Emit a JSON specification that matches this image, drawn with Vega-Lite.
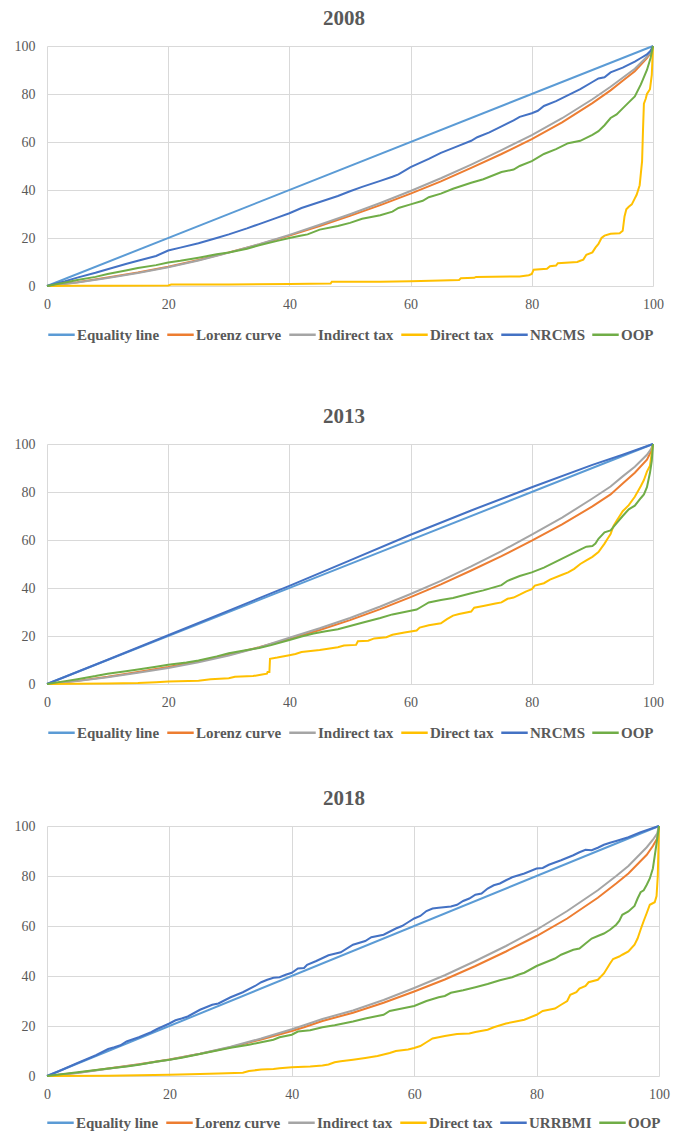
{
"$schema": "https://vega.github.io/schema/vega-lite/v6.json",
"padding": {"left": 14, "top": 8, "right": 5, "bottom": 2},
"config": {
  "font": "Liberation Serif",
  "view": {"stroke": null},
  "style": {"guide-label": {"font": "Liberation Serif"}, "guide-title": {"font": "Liberation Serif"}, "group-title": {"font": "Liberation Serif"}},
  "axis": {"grid": true, "gridColor": "#d9d9d9", "gridWidth": 1, "domain": false, "ticks": false, "labelFont": "Liberation Serif", "labelFontSize": 14, "labelColor": "#595959", "title": null, "labelFlush": false, "labelOverlap": false},
  "axisX": {"labelPadding": 11},
  "axisY": {"labelPadding": 12},
  "legend": {"labelFont": "Liberation Serif", "layout": {"bottom": {"anchor": "middle"}}},
  "title": {"font": "Liberation Serif", "fontSize": 21, "fontWeight": "bold", "color": "#595959", "anchor": "middle", "offset": 10}
},
"data": {"values": [
{"p":"2008","s":"Equality line","x":0,"y":0},{"p":"2008","s":"Equality line","x":100,"y":100},
{"p":"2008","s":"Lorenz curve","x":0,"y":0},{"p":"2008","s":"Lorenz curve","x":5,"y":1.6},{"p":"2008","s":"Lorenz curve","x":10,"y":3.5},{"p":"2008","s":"Lorenz curve","x":15,"y":5.6},{"p":"2008","s":"Lorenz curve","x":20,"y":8},{"p":"2008","s":"Lorenz curve","x":25,"y":10.8},{"p":"2008","s":"Lorenz curve","x":30,"y":14},{"p":"2008","s":"Lorenz curve","x":35,"y":17.3},{"p":"2008","s":"Lorenz curve","x":40,"y":21},{"p":"2008","s":"Lorenz curve","x":45,"y":25},{"p":"2008","s":"Lorenz curve","x":50,"y":29.2},{"p":"2008","s":"Lorenz curve","x":55,"y":33.7},{"p":"2008","s":"Lorenz curve","x":60,"y":38.5},{"p":"2008","s":"Lorenz curve","x":65,"y":43.6},{"p":"2008","s":"Lorenz curve","x":70,"y":49.2},{"p":"2008","s":"Lorenz curve","x":75,"y":55},{"p":"2008","s":"Lorenz curve","x":80,"y":61.2},{"p":"2008","s":"Lorenz curve","x":85,"y":68.2},{"p":"2008","s":"Lorenz curve","x":90,"y":76.2},{"p":"2008","s":"Lorenz curve","x":93,"y":81.5},{"p":"2008","s":"Lorenz curve","x":95,"y":85.5},{"p":"2008","s":"Lorenz curve","x":97,"y":89.5},{"p":"2008","s":"Lorenz curve","x":99,"y":95},{"p":"2008","s":"Lorenz curve","x":99.7,"y":97.5},{"p":"2008","s":"Lorenz curve","x":100,"y":100},
{"p":"2008","s":"Indirect tax","x":0,"y":0},{"p":"2008","s":"Indirect tax","x":5,"y":1.5},{"p":"2008","s":"Indirect tax","x":10,"y":3.3},{"p":"2008","s":"Indirect tax","x":15,"y":5.4},{"p":"2008","s":"Indirect tax","x":20,"y":7.8},{"p":"2008","s":"Indirect tax","x":25,"y":10.6},{"p":"2008","s":"Indirect tax","x":30,"y":13.9},{"p":"2008","s":"Indirect tax","x":35,"y":17.4},{"p":"2008","s":"Indirect tax","x":40,"y":21.3},{"p":"2008","s":"Indirect tax","x":45,"y":25.5},{"p":"2008","s":"Indirect tax","x":50,"y":29.9},{"p":"2008","s":"Indirect tax","x":55,"y":34.6},{"p":"2008","s":"Indirect tax","x":60,"y":39.6},{"p":"2008","s":"Indirect tax","x":65,"y":44.9},{"p":"2008","s":"Indirect tax","x":70,"y":50.6},{"p":"2008","s":"Indirect tax","x":75,"y":56.6},{"p":"2008","s":"Indirect tax","x":80,"y":62.9},{"p":"2008","s":"Indirect tax","x":85,"y":69.9},{"p":"2008","s":"Indirect tax","x":90,"y":77.8},{"p":"2008","s":"Indirect tax","x":93,"y":83},{"p":"2008","s":"Indirect tax","x":95,"y":86.8},{"p":"2008","s":"Indirect tax","x":97,"y":90.5},{"p":"2008","s":"Indirect tax","x":99,"y":95.5},{"p":"2008","s":"Indirect tax","x":99.7,"y":97.8},{"p":"2008","s":"Indirect tax","x":100,"y":100},
{"p":"2008","s":"Direct tax","x":0,"y":0},{"p":"2008","s":"Direct tax","x":5,"y":0.1},{"p":"2008","s":"Direct tax","x":10,"y":0.15},{"p":"2008","s":"Direct tax","x":20,"y":0.2},{"p":"2008","s":"Direct tax","x":20.5,"y":0.6},{"p":"2008","s":"Direct tax","x":30,"y":0.6},{"p":"2008","s":"Direct tax","x":40,"y":0.8},{"p":"2008","s":"Direct tax","x":46.8,"y":1.0},{"p":"2008","s":"Direct tax","x":47,"y":1.8},{"p":"2008","s":"Direct tax","x":55,"y":1.8},{"p":"2008","s":"Direct tax","x":60,"y":2.0},{"p":"2008","s":"Direct tax","x":65,"y":2.3},{"p":"2008","s":"Direct tax","x":68,"y":2.5},{"p":"2008","s":"Direct tax","x":68.3,"y":3.2},{"p":"2008","s":"Direct tax","x":70.5,"y":3.4},{"p":"2008","s":"Direct tax","x":70.8,"y":3.8},{"p":"2008","s":"Direct tax","x":78,"y":4.0},{"p":"2008","s":"Direct tax","x":79.5,"y":4.5},{"p":"2008","s":"Direct tax","x":80,"y":5},{"p":"2008","s":"Direct tax","x":80.3,"y":6.8},{"p":"2008","s":"Direct tax","x":82.5,"y":7.2},{"p":"2008","s":"Direct tax","x":83,"y":8.2},{"p":"2008","s":"Direct tax","x":84,"y":8.5},{"p":"2008","s":"Direct tax","x":84.3,"y":9.5},{"p":"2008","s":"Direct tax","x":87.5,"y":10},{"p":"2008","s":"Direct tax","x":88,"y":10.5},{"p":"2008","s":"Direct tax","x":88.5,"y":11},{"p":"2008","s":"Direct tax","x":89,"y":13},{"p":"2008","s":"Direct tax","x":90,"y":14},{"p":"2008","s":"Direct tax","x":90.5,"y":16},{"p":"2008","s":"Direct tax","x":91,"y":17.5},{"p":"2008","s":"Direct tax","x":91.5,"y":20},{"p":"2008","s":"Direct tax","x":92,"y":21},{"p":"2008","s":"Direct tax","x":93,"y":21.8},{"p":"2008","s":"Direct tax","x":94.5,"y":22},{"p":"2008","s":"Direct tax","x":95,"y":23},{"p":"2008","s":"Direct tax","x":95.3,"y":29},{"p":"2008","s":"Direct tax","x":95.6,"y":32},{"p":"2008","s":"Direct tax","x":96,"y":33},{"p":"2008","s":"Direct tax","x":96.5,"y":34},{"p":"2008","s":"Direct tax","x":97,"y":36.5},{"p":"2008","s":"Direct tax","x":97.3,"y":38},{"p":"2008","s":"Direct tax","x":97.8,"y":42},{"p":"2008","s":"Direct tax","x":98,"y":47},{"p":"2008","s":"Direct tax","x":98.2,"y":52},{"p":"2008","s":"Direct tax","x":98.35,"y":65},{"p":"2008","s":"Direct tax","x":98.5,"y":76},{"p":"2008","s":"Direct tax","x":98.8,"y":78},{"p":"2008","s":"Direct tax","x":99,"y":80},{"p":"2008","s":"Direct tax","x":99.5,"y":82},{"p":"2008","s":"Direct tax","x":99.8,"y":88},{"p":"2008","s":"Direct tax","x":100,"y":100},
{"p":"2008","s":"NRCMS","x":0,"y":0},{"p":"2008","s":"NRCMS","x":3,"y":2},{"p":"2008","s":"NRCMS","x":5,"y":3.5},{"p":"2008","s":"NRCMS","x":8,"y":5.5},{"p":"2008","s":"NRCMS","x":10,"y":7},{"p":"2008","s":"NRCMS","x":13,"y":9.2},{"p":"2008","s":"NRCMS","x":15,"y":10.5},{"p":"2008","s":"NRCMS","x":18,"y":12.5},{"p":"2008","s":"NRCMS","x":20,"y":14.8},{"p":"2008","s":"NRCMS","x":22,"y":16},{"p":"2008","s":"NRCMS","x":25,"y":17.8},{"p":"2008","s":"NRCMS","x":28,"y":20},{"p":"2008","s":"NRCMS","x":30,"y":21.5},{"p":"2008","s":"NRCMS","x":33,"y":24},{"p":"2008","s":"NRCMS","x":35,"y":25.8},{"p":"2008","s":"NRCMS","x":38,"y":28.5},{"p":"2008","s":"NRCMS","x":40,"y":30.3},{"p":"2008","s":"NRCMS","x":42,"y":32.5},{"p":"2008","s":"NRCMS","x":45,"y":35},{"p":"2008","s":"NRCMS","x":48,"y":37.5},{"p":"2008","s":"NRCMS","x":50,"y":39.5},{"p":"2008","s":"NRCMS","x":52,"y":41.3},{"p":"2008","s":"NRCMS","x":55,"y":43.8},{"p":"2008","s":"NRCMS","x":57,"y":45.5},{"p":"2008","s":"NRCMS","x":58,"y":46.5},{"p":"2008","s":"NRCMS","x":60,"y":49.5},{"p":"2008","s":"NRCMS","x":63,"y":53},{"p":"2008","s":"NRCMS","x":65,"y":55.5},{"p":"2008","s":"NRCMS","x":68,"y":58.5},{"p":"2008","s":"NRCMS","x":70,"y":60.5},{"p":"2008","s":"NRCMS","x":71,"y":62},{"p":"2008","s":"NRCMS","x":73,"y":64},{"p":"2008","s":"NRCMS","x":75,"y":66.5},{"p":"2008","s":"NRCMS","x":77,"y":69},{"p":"2008","s":"NRCMS","x":78,"y":70.5},{"p":"2008","s":"NRCMS","x":80,"y":72},{"p":"2008","s":"NRCMS","x":81,"y":73},{"p":"2008","s":"NRCMS","x":82,"y":75},{"p":"2008","s":"NRCMS","x":84,"y":77},{"p":"2008","s":"NRCMS","x":86,"y":79.5},{"p":"2008","s":"NRCMS","x":88,"y":82},{"p":"2008","s":"NRCMS","x":90,"y":85},{"p":"2008","s":"NRCMS","x":91,"y":86.5},{"p":"2008","s":"NRCMS","x":92,"y":87},{"p":"2008","s":"NRCMS","x":93,"y":89},{"p":"2008","s":"NRCMS","x":95,"y":91},{"p":"2008","s":"NRCMS","x":97,"y":93.5},{"p":"2008","s":"NRCMS","x":98,"y":95},{"p":"2008","s":"NRCMS","x":99,"y":96.5},{"p":"2008","s":"NRCMS","x":99.6,"y":98},{"p":"2008","s":"NRCMS","x":100,"y":100},
{"p":"2008","s":"OOP","x":0,"y":0},{"p":"2008","s":"OOP","x":3,"y":1.5},{"p":"2008","s":"OOP","x":5,"y":2.5},{"p":"2008","s":"OOP","x":8,"y":3.8},{"p":"2008","s":"OOP","x":10,"y":5},{"p":"2008","s":"OOP","x":13,"y":6.5},{"p":"2008","s":"OOP","x":15,"y":7.5},{"p":"2008","s":"OOP","x":18,"y":8.7},{"p":"2008","s":"OOP","x":20,"y":9.8},{"p":"2008","s":"OOP","x":22,"y":10.5},{"p":"2008","s":"OOP","x":25,"y":11.8},{"p":"2008","s":"OOP","x":28,"y":13.2},{"p":"2008","s":"OOP","x":30,"y":14},{"p":"2008","s":"OOP","x":33,"y":15.5},{"p":"2008","s":"OOP","x":35,"y":17},{"p":"2008","s":"OOP","x":38,"y":18.8},{"p":"2008","s":"OOP","x":40,"y":20},{"p":"2008","s":"OOP","x":42,"y":21},{"p":"2008","s":"OOP","x":43,"y":21.5},{"p":"2008","s":"OOP","x":45,"y":23.5},{"p":"2008","s":"OOP","x":48,"y":25},{"p":"2008","s":"OOP","x":50,"y":26.3},{"p":"2008","s":"OOP","x":52,"y":28},{"p":"2008","s":"OOP","x":55,"y":29.5},{"p":"2008","s":"OOP","x":57,"y":31},{"p":"2008","s":"OOP","x":58,"y":32.5},{"p":"2008","s":"OOP","x":60,"y":34},{"p":"2008","s":"OOP","x":62,"y":35.5},{"p":"2008","s":"OOP","x":63,"y":37},{"p":"2008","s":"OOP","x":65,"y":38.5},{"p":"2008","s":"OOP","x":67,"y":40.5},{"p":"2008","s":"OOP","x":70,"y":43},{"p":"2008","s":"OOP","x":72,"y":44.5},{"p":"2008","s":"OOP","x":75,"y":47.5},{"p":"2008","s":"OOP","x":77,"y":48.5},{"p":"2008","s":"OOP","x":78,"y":50},{"p":"2008","s":"OOP","x":80,"y":52},{"p":"2008","s":"OOP","x":82,"y":55},{"p":"2008","s":"OOP","x":84,"y":57},{"p":"2008","s":"OOP","x":86,"y":59.5},{"p":"2008","s":"OOP","x":88,"y":60.5},{"p":"2008","s":"OOP","x":90,"y":63},{"p":"2008","s":"OOP","x":91,"y":64.5},{"p":"2008","s":"OOP","x":92,"y":67},{"p":"2008","s":"OOP","x":93,"y":70},{"p":"2008","s":"OOP","x":94,"y":71.5},{"p":"2008","s":"OOP","x":95,"y":74},{"p":"2008","s":"OOP","x":96,"y":76.5},{"p":"2008","s":"OOP","x":97,"y":79},{"p":"2008","s":"OOP","x":98,"y":84},{"p":"2008","s":"OOP","x":99,"y":90},{"p":"2008","s":"OOP","x":99.6,"y":95},{"p":"2008","s":"OOP","x":100,"y":100},

{"p":"2013","s":"Equality line","x":0,"y":0},{"p":"2013","s":"Equality line","x":100,"y":100},
{"p":"2013","s":"Lorenz curve","x":0,"y":0},{"p":"2013","s":"Lorenz curve","x":5,"y":1.3},{"p":"2013","s":"Lorenz curve","x":10,"y":3},{"p":"2013","s":"Lorenz curve","x":15,"y":5},{"p":"2013","s":"Lorenz curve","x":20,"y":7.1},{"p":"2013","s":"Lorenz curve","x":25,"y":9.5},{"p":"2013","s":"Lorenz curve","x":30,"y":12.2},{"p":"2013","s":"Lorenz curve","x":35,"y":15.3},{"p":"2013","s":"Lorenz curve","x":40,"y":18.8},{"p":"2013","s":"Lorenz curve","x":45,"y":22.5},{"p":"2013","s":"Lorenz curve","x":50,"y":26.6},{"p":"2013","s":"Lorenz curve","x":55,"y":31.2},{"p":"2013","s":"Lorenz curve","x":60,"y":36.2},{"p":"2013","s":"Lorenz curve","x":65,"y":41.5},{"p":"2013","s":"Lorenz curve","x":70,"y":47.3},{"p":"2013","s":"Lorenz curve","x":75,"y":53.3},{"p":"2013","s":"Lorenz curve","x":80,"y":59.7},{"p":"2013","s":"Lorenz curve","x":85,"y":66.5},{"p":"2013","s":"Lorenz curve","x":90,"y":74},{"p":"2013","s":"Lorenz curve","x":93,"y":79},{"p":"2013","s":"Lorenz curve","x":95,"y":83.5},{"p":"2013","s":"Lorenz curve","x":97,"y":88},{"p":"2013","s":"Lorenz curve","x":99,"y":93.5},{"p":"2013","s":"Lorenz curve","x":99.7,"y":97},{"p":"2013","s":"Lorenz curve","x":100,"y":100},
{"p":"2013","s":"Indirect tax","x":0,"y":0},{"p":"2013","s":"Indirect tax","x":5,"y":1.2},{"p":"2013","s":"Indirect tax","x":10,"y":2.8},{"p":"2013","s":"Indirect tax","x":15,"y":4.7},{"p":"2013","s":"Indirect tax","x":20,"y":6.7},{"p":"2013","s":"Indirect tax","x":25,"y":9.1},{"p":"2013","s":"Indirect tax","x":30,"y":11.9},{"p":"2013","s":"Indirect tax","x":35,"y":15.2},{"p":"2013","s":"Indirect tax","x":40,"y":19.3},{"p":"2013","s":"Indirect tax","x":45,"y":23.2},{"p":"2013","s":"Indirect tax","x":50,"y":27.5},{"p":"2013","s":"Indirect tax","x":55,"y":32.3},{"p":"2013","s":"Indirect tax","x":60,"y":37.5},{"p":"2013","s":"Indirect tax","x":65,"y":43},{"p":"2013","s":"Indirect tax","x":70,"y":49},{"p":"2013","s":"Indirect tax","x":75,"y":55.4},{"p":"2013","s":"Indirect tax","x":80,"y":62.2},{"p":"2013","s":"Indirect tax","x":85,"y":69.3},{"p":"2013","s":"Indirect tax","x":90,"y":77.3},{"p":"2013","s":"Indirect tax","x":93,"y":82.3},{"p":"2013","s":"Indirect tax","x":95,"y":86.5},{"p":"2013","s":"Indirect tax","x":97,"y":90.5},{"p":"2013","s":"Indirect tax","x":99,"y":95.5},{"p":"2013","s":"Indirect tax","x":99.7,"y":98},{"p":"2013","s":"Indirect tax","x":100,"y":100},
{"p":"2013","s":"Direct tax","x":0,"y":0},{"p":"2013","s":"Direct tax","x":5,"y":0.1},{"p":"2013","s":"Direct tax","x":10,"y":0.2},{"p":"2013","s":"Direct tax","x":15,"y":0.4},{"p":"2013","s":"Direct tax","x":18,"y":0.7},{"p":"2013","s":"Direct tax","x":20,"y":1},{"p":"2013","s":"Direct tax","x":25,"y":1.4},{"p":"2013","s":"Direct tax","x":27,"y":2},{"p":"2013","s":"Direct tax","x":30,"y":2.4},{"p":"2013","s":"Direct tax","x":31,"y":3},{"p":"2013","s":"Direct tax","x":34,"y":3.3},{"p":"2013","s":"Direct tax","x":35.5,"y":4},{"p":"2013","s":"Direct tax","x":36.3,"y":4.3},{"p":"2013","s":"Direct tax","x":36.4,"y":5},{"p":"2013","s":"Direct tax","x":36.7,"y":5},{"p":"2013","s":"Direct tax","x":36.8,"y":10.5},{"p":"2013","s":"Direct tax","x":38,"y":11},{"p":"2013","s":"Direct tax","x":40,"y":12},{"p":"2013","s":"Direct tax","x":41,"y":12.5},{"p":"2013","s":"Direct tax","x":42,"y":13.3},{"p":"2013","s":"Direct tax","x":45,"y":14.2},{"p":"2013","s":"Direct tax","x":48,"y":15.3},{"p":"2013","s":"Direct tax","x":49,"y":16},{"p":"2013","s":"Direct tax","x":51,"y":16.3},{"p":"2013","s":"Direct tax","x":51.3,"y":17.8},{"p":"2013","s":"Direct tax","x":53,"y":18},{"p":"2013","s":"Direct tax","x":54,"y":19},{"p":"2013","s":"Direct tax","x":56,"y":19.5},{"p":"2013","s":"Direct tax","x":57,"y":20.5},{"p":"2013","s":"Direct tax","x":59,"y":21.5},{"p":"2013","s":"Direct tax","x":61,"y":22.3},{"p":"2013","s":"Direct tax","x":61.5,"y":23.5},{"p":"2013","s":"Direct tax","x":63,"y":24.5},{"p":"2013","s":"Direct tax","x":65,"y":25.3},{"p":"2013","s":"Direct tax","x":66,"y":27},{"p":"2013","s":"Direct tax","x":67,"y":28.5},{"p":"2013","s":"Direct tax","x":68,"y":29.2},{"p":"2013","s":"Direct tax","x":70,"y":30.2},{"p":"2013","s":"Direct tax","x":70.5,"y":31.8},{"p":"2013","s":"Direct tax","x":72,"y":32.5},{"p":"2013","s":"Direct tax","x":74,"y":33.5},{"p":"2013","s":"Direct tax","x":75,"y":34},{"p":"2013","s":"Direct tax","x":76,"y":35.5},{"p":"2013","s":"Direct tax","x":77,"y":36},{"p":"2013","s":"Direct tax","x":78,"y":37.2},{"p":"2013","s":"Direct tax","x":79,"y":38.5},{"p":"2013","s":"Direct tax","x":80,"y":39.5},{"p":"2013","s":"Direct tax","x":80.5,"y":41},{"p":"2013","s":"Direct tax","x":82,"y":42},{"p":"2013","s":"Direct tax","x":83,"y":43.5},{"p":"2013","s":"Direct tax","x":85,"y":45.5},{"p":"2013","s":"Direct tax","x":86,"y":46.5},{"p":"2013","s":"Direct tax","x":87,"y":48},{"p":"2013","s":"Direct tax","x":88,"y":50},{"p":"2013","s":"Direct tax","x":89,"y":51.5},{"p":"2013","s":"Direct tax","x":90,"y":53},{"p":"2013","s":"Direct tax","x":91,"y":55},{"p":"2013","s":"Direct tax","x":92,"y":58.5},{"p":"2013","s":"Direct tax","x":92.5,"y":60.5},{"p":"2013","s":"Direct tax","x":93,"y":62.5},{"p":"2013","s":"Direct tax","x":93.5,"y":66},{"p":"2013","s":"Direct tax","x":94,"y":68},{"p":"2013","s":"Direct tax","x":94.5,"y":70},{"p":"2013","s":"Direct tax","x":95,"y":72},{"p":"2013","s":"Direct tax","x":96,"y":74.5},{"p":"2013","s":"Direct tax","x":97,"y":78},{"p":"2013","s":"Direct tax","x":98,"y":82.5},{"p":"2013","s":"Direct tax","x":98.5,"y":85},{"p":"2013","s":"Direct tax","x":99,"y":88.5},{"p":"2013","s":"Direct tax","x":99.5,"y":91},{"p":"2013","s":"Direct tax","x":100,"y":100},
{"p":"2013","s":"NRCMS","x":0,"y":0},{"p":"2013","s":"NRCMS","x":10,"y":10.1},{"p":"2013","s":"NRCMS","x":20,"y":20.3},{"p":"2013","s":"NRCMS","x":30,"y":30.6},{"p":"2013","s":"NRCMS","x":40,"y":40.9},{"p":"2013","s":"NRCMS","x":50,"y":51.5},{"p":"2013","s":"NRCMS","x":60,"y":62.2},{"p":"2013","s":"NRCMS","x":70,"y":72.3},{"p":"2013","s":"NRCMS","x":80,"y":82},{"p":"2013","s":"NRCMS","x":90,"y":91.3},{"p":"2013","s":"NRCMS","x":95,"y":95.5},{"p":"2013","s":"NRCMS","x":100,"y":100},
{"p":"2013","s":"OOP","x":0,"y":0},{"p":"2013","s":"OOP","x":3,"y":1.2},{"p":"2013","s":"OOP","x":5,"y":2},{"p":"2013","s":"OOP","x":8,"y":3.3},{"p":"2013","s":"OOP","x":10,"y":4.3},{"p":"2013","s":"OOP","x":13,"y":5.3},{"p":"2013","s":"OOP","x":15,"y":6},{"p":"2013","s":"OOP","x":18,"y":7.2},{"p":"2013","s":"OOP","x":20,"y":8},{"p":"2013","s":"OOP","x":23,"y":9},{"p":"2013","s":"OOP","x":25,"y":9.8},{"p":"2013","s":"OOP","x":28,"y":11.5},{"p":"2013","s":"OOP","x":30,"y":12.8},{"p":"2013","s":"OOP","x":33,"y":14.2},{"p":"2013","s":"OOP","x":35,"y":15},{"p":"2013","s":"OOP","x":37,"y":16.2},{"p":"2013","s":"OOP","x":40,"y":18.3},{"p":"2013","s":"OOP","x":42,"y":19.8},{"p":"2013","s":"OOP","x":44,"y":21},{"p":"2013","s":"OOP","x":46,"y":22},{"p":"2013","s":"OOP","x":48,"y":22.8},{"p":"2013","s":"OOP","x":50,"y":24.2},{"p":"2013","s":"OOP","x":52,"y":25.5},{"p":"2013","s":"OOP","x":55,"y":27.5},{"p":"2013","s":"OOP","x":57,"y":29},{"p":"2013","s":"OOP","x":60,"y":30.5},{"p":"2013","s":"OOP","x":61,"y":31},{"p":"2013","s":"OOP","x":62,"y":32.5},{"p":"2013","s":"OOP","x":63,"y":34},{"p":"2013","s":"OOP","x":65,"y":35},{"p":"2013","s":"OOP","x":67,"y":35.8},{"p":"2013","s":"OOP","x":70,"y":37.8},{"p":"2013","s":"OOP","x":72,"y":39},{"p":"2013","s":"OOP","x":75,"y":41.2},{"p":"2013","s":"OOP","x":76,"y":43},{"p":"2013","s":"OOP","x":78,"y":45},{"p":"2013","s":"OOP","x":80,"y":46.5},{"p":"2013","s":"OOP","x":82,"y":48.5},{"p":"2013","s":"OOP","x":84,"y":51},{"p":"2013","s":"OOP","x":86,"y":53.5},{"p":"2013","s":"OOP","x":88,"y":56},{"p":"2013","s":"OOP","x":89,"y":57.2},{"p":"2013","s":"OOP","x":90,"y":57.5},{"p":"2013","s":"OOP","x":90.5,"y":58.5},{"p":"2013","s":"OOP","x":91,"y":60.5},{"p":"2013","s":"OOP","x":92,"y":63.2},{"p":"2013","s":"OOP","x":93,"y":64},{"p":"2013","s":"OOP","x":94,"y":67},{"p":"2013","s":"OOP","x":95,"y":70},{"p":"2013","s":"OOP","x":96,"y":72.8},{"p":"2013","s":"OOP","x":97,"y":74.3},{"p":"2013","s":"OOP","x":98,"y":77.5},{"p":"2013","s":"OOP","x":98.5,"y":79},{"p":"2013","s":"OOP","x":99,"y":82},{"p":"2013","s":"OOP","x":99.5,"y":88},{"p":"2013","s":"OOP","x":99.8,"y":93},{"p":"2013","s":"OOP","x":100,"y":100},

{"p":"2018","s":"Equality line","x":0,"y":0},{"p":"2018","s":"Equality line","x":100,"y":100},
{"p":"2018","s":"Lorenz curve","x":0,"y":0},{"p":"2018","s":"Lorenz curve","x":5,"y":1.3},{"p":"2018","s":"Lorenz curve","x":10,"y":3},{"p":"2018","s":"Lorenz curve","x":15,"y":4.7},{"p":"2018","s":"Lorenz curve","x":20,"y":6.6},{"p":"2018","s":"Lorenz curve","x":25,"y":8.9},{"p":"2018","s":"Lorenz curve","x":30,"y":11.5},{"p":"2018","s":"Lorenz curve","x":35,"y":14.6},{"p":"2018","s":"Lorenz curve","x":40,"y":18},{"p":"2018","s":"Lorenz curve","x":42,"y":19.5},{"p":"2018","s":"Lorenz curve","x":45,"y":22},{"p":"2018","s":"Lorenz curve","x":50,"y":25.3},{"p":"2018","s":"Lorenz curve","x":55,"y":29.3},{"p":"2018","s":"Lorenz curve","x":60,"y":33.8},{"p":"2018","s":"Lorenz curve","x":65,"y":38.6},{"p":"2018","s":"Lorenz curve","x":70,"y":44},{"p":"2018","s":"Lorenz curve","x":75,"y":49.8},{"p":"2018","s":"Lorenz curve","x":80,"y":56},{"p":"2018","s":"Lorenz curve","x":85,"y":63},{"p":"2018","s":"Lorenz curve","x":90,"y":71.3},{"p":"2018","s":"Lorenz curve","x":93,"y":77},{"p":"2018","s":"Lorenz curve","x":95,"y":81},{"p":"2018","s":"Lorenz curve","x":97,"y":86},{"p":"2018","s":"Lorenz curve","x":98,"y":88.5},{"p":"2018","s":"Lorenz curve","x":99,"y":92},{"p":"2018","s":"Lorenz curve","x":99.7,"y":95},{"p":"2018","s":"Lorenz curve","x":100,"y":100},
{"p":"2018","s":"Indirect tax","x":0,"y":0},{"p":"2018","s":"Indirect tax","x":5,"y":1.2},{"p":"2018","s":"Indirect tax","x":10,"y":2.9},{"p":"2018","s":"Indirect tax","x":15,"y":4.6},{"p":"2018","s":"Indirect tax","x":20,"y":6.5},{"p":"2018","s":"Indirect tax","x":25,"y":8.9},{"p":"2018","s":"Indirect tax","x":30,"y":11.7},{"p":"2018","s":"Indirect tax","x":35,"y":15},{"p":"2018","s":"Indirect tax","x":40,"y":18.7},{"p":"2018","s":"Indirect tax","x":42,"y":20.3},{"p":"2018","s":"Indirect tax","x":45,"y":22.8},{"p":"2018","s":"Indirect tax","x":50,"y":26.2},{"p":"2018","s":"Indirect tax","x":55,"y":30.4},{"p":"2018","s":"Indirect tax","x":60,"y":35.2},{"p":"2018","s":"Indirect tax","x":65,"y":40.3},{"p":"2018","s":"Indirect tax","x":70,"y":46},{"p":"2018","s":"Indirect tax","x":75,"y":52},{"p":"2018","s":"Indirect tax","x":80,"y":58.5},{"p":"2018","s":"Indirect tax","x":85,"y":66},{"p":"2018","s":"Indirect tax","x":90,"y":74.3},{"p":"2018","s":"Indirect tax","x":93,"y":80},{"p":"2018","s":"Indirect tax","x":95,"y":84},{"p":"2018","s":"Indirect tax","x":97,"y":89},{"p":"2018","s":"Indirect tax","x":98,"y":91.5},{"p":"2018","s":"Indirect tax","x":99,"y":94.5},{"p":"2018","s":"Indirect tax","x":99.7,"y":97},{"p":"2018","s":"Indirect tax","x":100,"y":100},
{"p":"2018","s":"Direct tax","x":0,"y":0},{"p":"2018","s":"Direct tax","x":10,"y":0.1},{"p":"2018","s":"Direct tax","x":15,"y":0.3},{"p":"2018","s":"Direct tax","x":20,"y":0.5},{"p":"2018","s":"Direct tax","x":25,"y":0.8},{"p":"2018","s":"Direct tax","x":28,"y":1},{"p":"2018","s":"Direct tax","x":32,"y":1.3},{"p":"2018","s":"Direct tax","x":33,"y":2},{"p":"2018","s":"Direct tax","x":35,"y":2.6},{"p":"2018","s":"Direct tax","x":37,"y":2.8},{"p":"2018","s":"Direct tax","x":38,"y":3.1},{"p":"2018","s":"Direct tax","x":40,"y":3.5},{"p":"2018","s":"Direct tax","x":43,"y":3.8},{"p":"2018","s":"Direct tax","x":45,"y":4.2},{"p":"2018","s":"Direct tax","x":46,"y":4.6},{"p":"2018","s":"Direct tax","x":47,"y":5.5},{"p":"2018","s":"Direct tax","x":48,"y":5.9},{"p":"2018","s":"Direct tax","x":50,"y":6.5},{"p":"2018","s":"Direct tax","x":52,"y":7.2},{"p":"2018","s":"Direct tax","x":54,"y":8},{"p":"2018","s":"Direct tax","x":55,"y":8.6},{"p":"2018","s":"Direct tax","x":56,"y":9.2},{"p":"2018","s":"Direct tax","x":57,"y":10},{"p":"2018","s":"Direct tax","x":59,"y":10.6},{"p":"2018","s":"Direct tax","x":60,"y":11.2},{"p":"2018","s":"Direct tax","x":61,"y":12},{"p":"2018","s":"Direct tax","x":62,"y":13.5},{"p":"2018","s":"Direct tax","x":63,"y":15},{"p":"2018","s":"Direct tax","x":64,"y":15.5},{"p":"2018","s":"Direct tax","x":65,"y":16},{"p":"2018","s":"Direct tax","x":67,"y":16.8},{"p":"2018","s":"Direct tax","x":69,"y":17},{"p":"2018","s":"Direct tax","x":70,"y":17.6},{"p":"2018","s":"Direct tax","x":72,"y":18.5},{"p":"2018","s":"Direct tax","x":73,"y":19.5},{"p":"2018","s":"Direct tax","x":75,"y":21},{"p":"2018","s":"Direct tax","x":77,"y":22},{"p":"2018","s":"Direct tax","x":78,"y":22.5},{"p":"2018","s":"Direct tax","x":80,"y":24.5},{"p":"2018","s":"Direct tax","x":81,"y":26},{"p":"2018","s":"Direct tax","x":82,"y":26.5},{"p":"2018","s":"Direct tax","x":83,"y":27},{"p":"2018","s":"Direct tax","x":84,"y":28.5},{"p":"2018","s":"Direct tax","x":85,"y":30},{"p":"2018","s":"Direct tax","x":85.5,"y":32.5},{"p":"2018","s":"Direct tax","x":86.5,"y":33.5},{"p":"2018","s":"Direct tax","x":87,"y":35},{"p":"2018","s":"Direct tax","x":88,"y":36},{"p":"2018","s":"Direct tax","x":88.5,"y":37.5},{"p":"2018","s":"Direct tax","x":90,"y":38.5},{"p":"2018","s":"Direct tax","x":91,"y":41},{"p":"2018","s":"Direct tax","x":92,"y":45},{"p":"2018","s":"Direct tax","x":92.5,"y":46.8},{"p":"2018","s":"Direct tax","x":93.5,"y":47.8},{"p":"2018","s":"Direct tax","x":94,"y":48.5},{"p":"2018","s":"Direct tax","x":95,"y":49.8},{"p":"2018","s":"Direct tax","x":96,"y":52.5},{"p":"2018","s":"Direct tax","x":96.5,"y":55},{"p":"2018","s":"Direct tax","x":97,"y":58.6},{"p":"2018","s":"Direct tax","x":97.5,"y":62},{"p":"2018","s":"Direct tax","x":98,"y":65.2},{"p":"2018","s":"Direct tax","x":98.5,"y":68.5},{"p":"2018","s":"Direct tax","x":99.3,"y":69.5},{"p":"2018","s":"Direct tax","x":99.6,"y":72},{"p":"2018","s":"Direct tax","x":99.8,"y":80},{"p":"2018","s":"Direct tax","x":100,"y":100},
{"p":"2018","s":"URRBMI","x":0,"y":0},{"p":"2018","s":"URRBMI","x":2,"y":2},{"p":"2018","s":"URRBMI","x":5,"y":5.2},{"p":"2018","s":"URRBMI","x":8,"y":8.3},{"p":"2018","s":"URRBMI","x":10,"y":10.8},{"p":"2018","s":"URRBMI","x":11,"y":11.5},{"p":"2018","s":"URRBMI","x":12,"y":12.3},{"p":"2018","s":"URRBMI","x":13,"y":13.8},{"p":"2018","s":"URRBMI","x":15,"y":15.5},{"p":"2018","s":"URRBMI","x":17,"y":17.5},{"p":"2018","s":"URRBMI","x":18,"y":18.8},{"p":"2018","s":"URRBMI","x":20,"y":21},{"p":"2018","s":"URRBMI","x":21,"y":22.3},{"p":"2018","s":"URRBMI","x":22,"y":23},{"p":"2018","s":"URRBMI","x":23,"y":23.8},{"p":"2018","s":"URRBMI","x":25,"y":26.5},{"p":"2018","s":"URRBMI","x":27,"y":28.5},{"p":"2018","s":"URRBMI","x":28,"y":29},{"p":"2018","s":"URRBMI","x":30,"y":31.5},{"p":"2018","s":"URRBMI","x":32,"y":33.5},{"p":"2018","s":"URRBMI","x":34,"y":36},{"p":"2018","s":"URRBMI","x":35,"y":37.5},{"p":"2018","s":"URRBMI","x":36,"y":38.5},{"p":"2018","s":"URRBMI","x":37,"y":39.3},{"p":"2018","s":"URRBMI","x":38,"y":39.5},{"p":"2018","s":"URRBMI","x":39,"y":40.5},{"p":"2018","s":"URRBMI","x":40,"y":41.3},{"p":"2018","s":"URRBMI","x":41,"y":43},{"p":"2018","s":"URRBMI","x":42,"y":43.2},{"p":"2018","s":"URRBMI","x":42.5,"y":44.5},{"p":"2018","s":"URRBMI","x":44,"y":46},{"p":"2018","s":"URRBMI","x":46,"y":48.3},{"p":"2018","s":"URRBMI","x":48,"y":49.5},{"p":"2018","s":"URRBMI","x":50,"y":52.5},{"p":"2018","s":"URRBMI","x":52,"y":54},{"p":"2018","s":"URRBMI","x":53,"y":55.5},{"p":"2018","s":"URRBMI","x":55,"y":56.5},{"p":"2018","s":"URRBMI","x":57,"y":59},{"p":"2018","s":"URRBMI","x":58,"y":60},{"p":"2018","s":"URRBMI","x":59,"y":61.5},{"p":"2018","s":"URRBMI","x":60,"y":63},{"p":"2018","s":"URRBMI","x":61,"y":64},{"p":"2018","s":"URRBMI","x":62,"y":66},{"p":"2018","s":"URRBMI","x":63,"y":67},{"p":"2018","s":"URRBMI","x":64,"y":67.3},{"p":"2018","s":"URRBMI","x":66,"y":67.8},{"p":"2018","s":"URRBMI","x":67,"y":68.5},{"p":"2018","s":"URRBMI","x":68,"y":70},{"p":"2018","s":"URRBMI","x":69,"y":71},{"p":"2018","s":"URRBMI","x":70,"y":72.5},{"p":"2018","s":"URRBMI","x":71,"y":73},{"p":"2018","s":"URRBMI","x":72,"y":75},{"p":"2018","s":"URRBMI","x":73,"y":76.3},{"p":"2018","s":"URRBMI","x":74,"y":77},{"p":"2018","s":"URRBMI","x":75,"y":78.3},{"p":"2018","s":"URRBMI","x":76,"y":79.5},{"p":"2018","s":"URRBMI","x":78,"y":81},{"p":"2018","s":"URRBMI","x":80,"y":83},{"p":"2018","s":"URRBMI","x":81,"y":83.2},{"p":"2018","s":"URRBMI","x":82,"y":84.5},{"p":"2018","s":"URRBMI","x":84,"y":86.3},{"p":"2018","s":"URRBMI","x":86,"y":88.3},{"p":"2018","s":"URRBMI","x":87,"y":89.5},{"p":"2018","s":"URRBMI","x":88,"y":90.5},{"p":"2018","s":"URRBMI","x":89,"y":90.3},{"p":"2018","s":"URRBMI","x":90,"y":91.3},{"p":"2018","s":"URRBMI","x":91,"y":92.5},{"p":"2018","s":"URRBMI","x":92,"y":93.3},{"p":"2018","s":"URRBMI","x":93,"y":94},{"p":"2018","s":"URRBMI","x":95,"y":95.5},{"p":"2018","s":"URRBMI","x":97,"y":97.5},{"p":"2018","s":"URRBMI","x":100,"y":100},
{"p":"2018","s":"OOP","x":0,"y":0},{"p":"2018","s":"OOP","x":5,"y":1.5},{"p":"2018","s":"OOP","x":10,"y":3},{"p":"2018","s":"OOP","x":13,"y":3.8},{"p":"2018","s":"OOP","x":15,"y":4.5},{"p":"2018","s":"OOP","x":18,"y":5.8},{"p":"2018","s":"OOP","x":20,"y":6.5},{"p":"2018","s":"OOP","x":22,"y":7.3},{"p":"2018","s":"OOP","x":25,"y":8.8},{"p":"2018","s":"OOP","x":28,"y":10.3},{"p":"2018","s":"OOP","x":30,"y":11.3},{"p":"2018","s":"OOP","x":33,"y":12.5},{"p":"2018","s":"OOP","x":35,"y":13.5},{"p":"2018","s":"OOP","x":37,"y":14.5},{"p":"2018","s":"OOP","x":38,"y":15.5},{"p":"2018","s":"OOP","x":40,"y":16.5},{"p":"2018","s":"OOP","x":41,"y":17.8},{"p":"2018","s":"OOP","x":43,"y":18.3},{"p":"2018","s":"OOP","x":45,"y":19.5},{"p":"2018","s":"OOP","x":47,"y":20.3},{"p":"2018","s":"OOP","x":50,"y":21.8},{"p":"2018","s":"OOP","x":52,"y":23},{"p":"2018","s":"OOP","x":55,"y":24.5},{"p":"2018","s":"OOP","x":56,"y":26},{"p":"2018","s":"OOP","x":58,"y":27},{"p":"2018","s":"OOP","x":60,"y":28},{"p":"2018","s":"OOP","x":62,"y":30},{"p":"2018","s":"OOP","x":64,"y":31.5},{"p":"2018","s":"OOP","x":65,"y":32},{"p":"2018","s":"OOP","x":66,"y":33.3},{"p":"2018","s":"OOP","x":68,"y":34.3},{"p":"2018","s":"OOP","x":70,"y":35.5},{"p":"2018","s":"OOP","x":72,"y":36.8},{"p":"2018","s":"OOP","x":74,"y":38.3},{"p":"2018","s":"OOP","x":76,"y":39.5},{"p":"2018","s":"OOP","x":77,"y":40.5},{"p":"2018","s":"OOP","x":78,"y":41.3},{"p":"2018","s":"OOP","x":80,"y":44},{"p":"2018","s":"OOP","x":82,"y":46},{"p":"2018","s":"OOP","x":83,"y":47},{"p":"2018","s":"OOP","x":84,"y":48.5},{"p":"2018","s":"OOP","x":86,"y":50.5},{"p":"2018","s":"OOP","x":87,"y":51},{"p":"2018","s":"OOP","x":88,"y":53},{"p":"2018","s":"OOP","x":89,"y":55},{"p":"2018","s":"OOP","x":90,"y":56},{"p":"2018","s":"OOP","x":91,"y":57},{"p":"2018","s":"OOP","x":92,"y":58.5},{"p":"2018","s":"OOP","x":93,"y":60.5},{"p":"2018","s":"OOP","x":93.5,"y":62},{"p":"2018","s":"OOP","x":94,"y":64.5},{"p":"2018","s":"OOP","x":95,"y":65.8},{"p":"2018","s":"OOP","x":96,"y":68},{"p":"2018","s":"OOP","x":96.5,"y":71},{"p":"2018","s":"OOP","x":97,"y":73.5},{"p":"2018","s":"OOP","x":97.5,"y":74.3},{"p":"2018","s":"OOP","x":98,"y":76.5},{"p":"2018","s":"OOP","x":98.5,"y":79},{"p":"2018","s":"OOP","x":99,"y":83},{"p":"2018","s":"OOP","x":99.3,"y":88},{"p":"2018","s":"OOP","x":99.6,"y":93},{"p":"2018","s":"OOP","x":100,"y":100}
]},
"spacing": 47,
"resolve": {"scale": {"color": "independent"}, "legend": {"color": "independent"}},
"vconcat": [
  {
    "spacing": 63,
    "resolve": {"scale": {"color": "independent"}, "legend": {"color": "independent"}},
    "vconcat": [
      {
        "title": {"text": "2008", "dx": -6},
        "width": 606, "height": 240,
        "transform": [{"filter": "datum.p == '2008'"}],
        "mark": {"type": "line", "strokeWidth": 2},
        "encoding": {
          "x": {"field": "x", "type": "quantitative", "scale": {"domain": [0, 100], "nice": false, "zero": false}, "axis": {"values": [0, 20, 40, 60, 80, 100], "labelFont": "Liberation Serif"}},
          "y": {"field": "y", "type": "quantitative", "scale": {"domain": [0, 100], "nice": false}, "axis": {"values": [0, 20, 40, 60, 80, 100], "labelFont": "Liberation Serif"}},
          "color": {"field": "s", "type": "nominal", "sort": null,
            "scale": {"domain": ["Equality line", "Lorenz curve", "Indirect tax", "Direct tax", "NRCMS", "OOP"], "range": ["#5B9BD5", "#ED7D31", "#A5A5A5", "#FFC000", "#4472C4", "#70AD47"]},
            "legend": {"orient": "bottom", "direction": "horizontal", "title": null, "symbolType": "stroke", "symbolStrokeWidth": 2.5, "symbolSize": 700, "labelFont": "Liberation Serif", "labelFontWeight": "bold", "labelFontSize": 15, "labelColor": "#595959", "columnPadding": 2, "labelOffset": 1, "offset": 9}}
        }
      },
      {
        "title": {"text": "2013", "dx": -6},
        "width": 606, "height": 240,
        "transform": [{"filter": "datum.p == '2013'"}],
        "mark": {"type": "line", "strokeWidth": 2},
        "encoding": {
          "x": {"field": "x", "type": "quantitative", "scale": {"domain": [0, 100], "nice": false, "zero": false}, "axis": {"values": [0, 20, 40, 60, 80, 100], "labelFont": "Liberation Serif"}},
          "y": {"field": "y", "type": "quantitative", "scale": {"domain": [0, 100], "nice": false}, "axis": {"values": [0, 20, 40, 60, 80, 100], "labelFont": "Liberation Serif"}},
          "color": {"field": "s", "type": "nominal", "sort": null,
            "scale": {"domain": ["Equality line", "Lorenz curve", "Indirect tax", "Direct tax", "NRCMS", "OOP"], "range": ["#5B9BD5", "#ED7D31", "#A5A5A5", "#FFC000", "#4472C4", "#70AD47"]},
            "legend": {"orient": "bottom", "direction": "horizontal", "title": null, "symbolType": "stroke", "symbolStrokeWidth": 2.5, "symbolSize": 700, "labelFont": "Liberation Serif", "labelFontWeight": "bold", "labelFontSize": 15, "labelColor": "#595959", "columnPadding": 2, "labelOffset": 1, "offset": 9}}
        }
      }
    ]
  },
  {
    "title": {"text": "2018", "dx": -9},
    "width": 612, "height": 250,
    "transform": [{"filter": "datum.p == '2018'"}],
    "mark": {"type": "line", "strokeWidth": 2},
    "encoding": {
      "x": {"field": "x", "type": "quantitative", "scale": {"domain": [0, 100], "nice": false, "zero": false}, "axis": {"values": [0, 20, 40, 60, 80, 100], "labelFont": "Liberation Serif"}},
      "y": {"field": "y", "type": "quantitative", "scale": {"domain": [0, 100], "nice": false}, "axis": {"values": [0, 20, 40, 60, 80, 100], "labelFont": "Liberation Serif"}},
      "color": {"field": "s", "type": "nominal", "sort": null,
        "scale": {"domain": ["Equality line", "Lorenz curve", "Indirect tax", "Direct tax", "URRBMI", "OOP"], "range": ["#5B9BD5", "#ED7D31", "#A5A5A5", "#FFC000", "#4472C4", "#70AD47"]},
        "legend": {"orient": "bottom", "direction": "horizontal", "title": null, "symbolType": "stroke", "symbolStrokeWidth": 2.5, "symbolSize": 700, "labelFont": "Liberation Serif", "labelFontWeight": "bold", "labelFontSize": 15, "labelColor": "#595959", "columnPadding": 2, "labelOffset": 1, "offset": 7}}
    }
  }
]
}
